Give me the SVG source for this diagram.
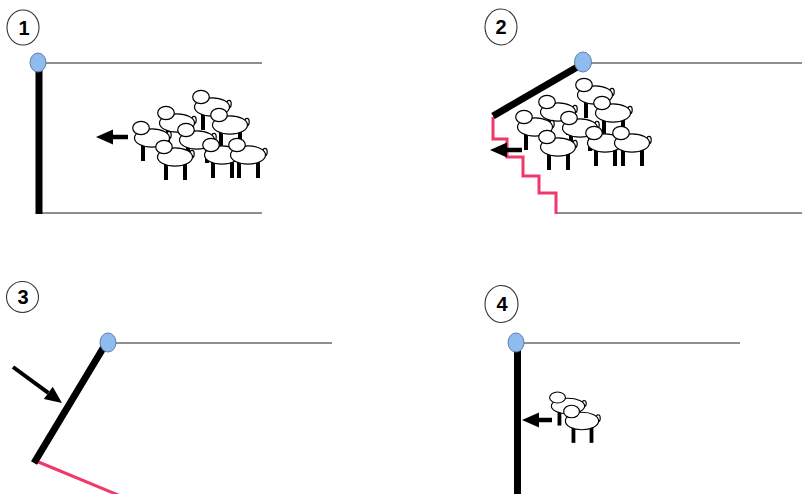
<svg xmlns="http://www.w3.org/2000/svg" xmlns:xlink="http://www.w3.org/1999/xlink" width="802" height="494" viewBox="0 0 802 494">
  <style>
    .rail { stroke: #1e1e1e; stroke-width: 1.2; fill: none; }
    .gate { stroke: #000; stroke-width: 7; fill: none; stroke-linecap: butt; }
    .hinge { fill: #8fbcef; stroke: #5f7fa8; stroke-width: 1; }
    .step { stroke: #f0386a; stroke-width: 3; fill: none; stroke-linejoin: miter; }
    .badge { fill: #fff; stroke: #333; stroke-width: 1.1; }
    .num { font-family: "Liberation Sans", Arial, sans-serif; font-weight: bold; font-size: 20px; fill: #000; text-anchor: middle; }
    .push { stroke: #000; stroke-width: 4.5; fill: none; }
    .push-thin { stroke: #000; stroke-width: 4; fill: none; }
    .wool { fill: #fff; stroke: #000; stroke-width: 1.2; }
    .leg { fill: #000; }
  </style>
  <defs>
    <marker id="head" viewBox="0 -8 17 16" markerWidth="17" markerHeight="16" refX="0" refY="0" markerUnits="userSpaceOnUse" orient="auto" overflow="visible">
      <path d="M0,-7.5 L17,0 L0,7.5 Z" fill="#000"/>
    </marker>
    <!-- one sheep, body centred on the origin -->
    <g id="sheep">
      <rect class="leg" x="-11" y="3" width="4" height="20"/>
      <rect class="leg" x="8" y="3" width="4" height="20"/>
      <ellipse class="wool" cx="17" cy="-3" rx="2.2" ry="3.6"/>
      <ellipse class="wool" cx="0" cy="0" rx="17.5" ry="9.2"/>
      <ellipse class="wool" cx="-11" cy="-10" rx="8.3" ry="6.6"/>
    </g>
  </defs>

  <!-- step 1: gate closed, flock moving left -->
  <g id="panel1">
    <ellipse class="badge" cx="23" cy="27.5" rx="16" ry="17.5"/>
    <text class="num" x="24" y="34.5">1</text>
    <line class="rail" x1="44" y1="63" x2="262" y2="63"/>
    <line class="rail" x1="42" y1="213" x2="262" y2="213"/>
    <line class="gate" x1="39" y1="66" x2="39" y2="214"/>
    <ellipse class="hinge" cx="38" cy="62.5" rx="8" ry="9.5"/>
    <g id="flock1">
      <use xlink:href="#sheep" transform="translate(212,107)"/>
      <use xlink:href="#sheep" transform="translate(177,123)"/>
      <use xlink:href="#sheep" transform="translate(230,125)"/>
      <use xlink:href="#sheep" transform="translate(152,138)"/>
      <use xlink:href="#sheep" transform="translate(197,140)"/>
      <use xlink:href="#sheep" transform="translate(175,157)"/>
      <use xlink:href="#sheep" transform="translate(222,155)"/>
      <use xlink:href="#sheep" transform="translate(248,155)"/>
    </g>
  </g>

  <!-- step 2: gate swung open, stairs revealed -->
  <g id="panel2">
    <ellipse class="badge" cx="501" cy="27" rx="16" ry="18"/>
    <text class="num" x="501" y="34">2</text>
    <line class="rail" x1="590" y1="63" x2="802" y2="63"/>
    <line class="rail" x1="555" y1="213" x2="802" y2="213"/>
    <polyline class="step" points="493,117 493,139 507,139 507,157 523,157 523,176 539,176 539,193 556,193 556,214"/>
    <line class="gate" x1="579" y1="66" x2="493" y2="116"/>
    <ellipse class="hinge" cx="583" cy="62" rx="8.5" ry="10"/>
    <g id="flock2">
      <use xlink:href="#sheep" transform="translate(595,95)"/>
      <use xlink:href="#sheep" transform="translate(558,112)"/>
      <use xlink:href="#sheep" transform="translate(613,113)"/>
      <use xlink:href="#sheep" transform="translate(535,127)"/>
      <use xlink:href="#sheep" transform="translate(580,128)"/>
      <use xlink:href="#sheep" transform="translate(558,147)"/>
      <use xlink:href="#sheep" transform="translate(605,143)"/>
      <use xlink:href="#sheep" transform="translate(632,143)"/>
    </g>
  </g>

  <!-- step 3: gate pushed back -->
  <g id="panel3">
    <ellipse class="badge" cx="22.5" cy="297" rx="16" ry="15.5"/>
    <text class="num" x="23" y="304">3</text>
    <line class="rail" x1="115" y1="343" x2="332" y2="343"/>
    <line class="step" x1="36" y1="461" x2="123" y2="497"/>
    <line class="gate" x1="105" y1="345" x2="34" y2="463"/>
    <ellipse class="hinge" cx="108" cy="342.5" rx="8" ry="9.5"/>
  </g>

  <!-- step 4: gate closed again, stragglers -->
  <g id="panel4">
    <ellipse class="badge" cx="501.5" cy="304" rx="16.5" ry="18.5"/>
    <text class="num" x="502" y="311">4</text>
    <line class="rail" x1="522" y1="343" x2="740" y2="343"/>
    <line class="gate" x1="517.5" y1="347" x2="517.5" y2="494"/>
    <ellipse class="hinge" cx="516" cy="342.5" rx="8" ry="9.5"/>
    <g id="flock4">
      <use xlink:href="#sheep" transform="translate(568,406) scale(0.95 0.85)"/>
      <use xlink:href="#sheep" transform="translate(582,421) scale(0.95)"/>
    </g>
  </g>

  <!-- direction arrows -->
  <g id="arrows">
    <line class="push" x1="128" y1="137" x2="113" y2="137" marker-end="url(#head)"/>
    <line class="push" x1="522" y1="150" x2="507" y2="150" marker-end="url(#head)"/>
    <line class="push-thin" x1="13" y1="367" x2="48.3" y2="392.9" marker-end="url(#head)"/>
    <line class="push" x1="552" y1="420" x2="539" y2="420" marker-end="url(#head)"/>
  </g>
</svg>
